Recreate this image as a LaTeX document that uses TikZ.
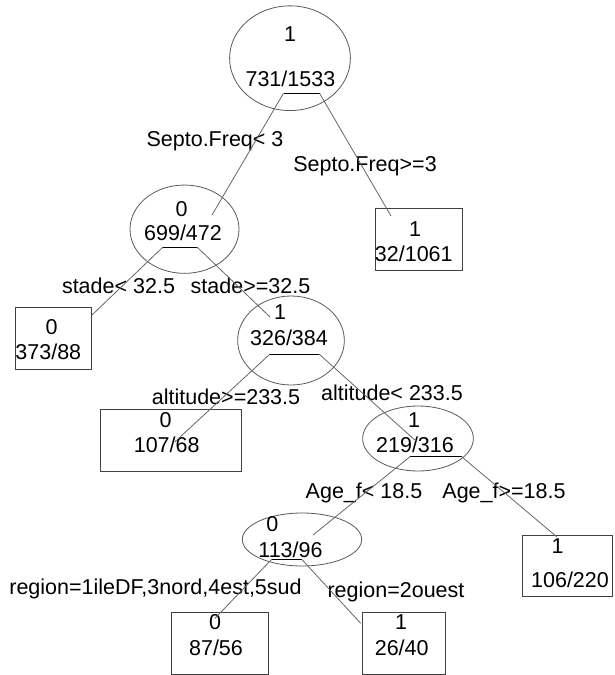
\documentclass[tikz,border=0pt]{standalone}
\usepackage{fontspec}
\setmainfont{Liberation Sans}
\usepackage{tikz}
\usetikzlibrary{positioning, shapes.geometric}

\tikzset{
    split/.style={ellipse, draw=black!65, line width=0.8pt, inner sep=0pt},
    leaf/.style={rectangle, draw=black!75, line width=0.8pt, inner sep=0pt},
    txt/.style={inner sep=0pt, anchor=base, font=\fontsize{21.5}{24}\selectfont},
    branch/.style={draw=black!60, line width=0.8pt},
    bar/.style={draw=black, line width=0.8pt}
}

\begin{document}
\begin{tikzpicture}[x=1pt, y=-1pt]
    \useasboundingbox (0,0) rectangle (615,675);
    % split nodes
    \node[split, minimum width=120.8pt, minimum height=104.7pt] (root) at (290,58.2) {};
    \node[split, minimum width=109pt, minimum height=88.3pt] (n2) at (184.5,229.2) {};
    \node[split, minimum width=106.7pt, minimum height=89pt] (n5) at (291,340.5) {};
    \node[split, minimum width=110.7pt, minimum height=65pt] (n11) at (418,438.5) {};
    \node[split, minimum width=119.4pt, minimum height=53pt] (n22) at (302,539.5) {};
    % leaves
    \node[leaf, minimum width=86.7pt, minimum height=62.3pt] (l3) at (419,239.5) {};
    \node[leaf, minimum width=75.3pt, minimum height=62pt] (l4) at (53.3,338.3) {};
    \node[leaf, minimum width=140.7pt, minimum height=62pt] (l10) at (171,440.3) {};
    \node[leaf, minimum width=89.3pt, minimum height=61.7pt] (l23) at (567.3,565.8) {};
    \node[leaf, minimum width=96.7pt, minimum height=61.7pt] (l44) at (220,643.2) {};
    \node[leaf, minimum width=83pt, minimum height=62pt] (l45) at (404.2,643.3) {};
    % class and counts
    \node[txt] (root-c) at (290,41) {1};
    \node[txt] (root-n) at (290.4,86.1) {731/1533};
    \node[txt] (n2-c) at (181.7,216) {0};
    \node[txt] (n2-n) at (183,240.7) {699/472};
    \node[txt] (l3-c) at (415,236) {1};
    \node[txt] (l3-n) at (413.8,261) {32/1061};
    \node[txt] (l4-c) at (51.7,334.7) {0};
    \node[txt] (l4-n) at (48.3,359.7) {373/88};
    \node[txt] (n5-c) at (280,319.7) {1};
    \node[txt] (n5-n) at (289,345.7) {326/384};
    \node[txt] (l10-c) at (165.7,427.7) {0};
    \node[txt] (l10-n) at (166.7,452.7) {107/68};
    \node[txt] (n11-c) at (414,427.7) {1};
    \node[txt] (n11-n) at (415,452.7) {219/316};
    \node[txt] (l23-c) at (557.7,553.7) {1};
    \node[txt] (l23-n) at (570,587.7) {106/220};
    \node[txt] (n22-c) at (272.3,531.7) {0};
    \node[txt] (n22-n) at (290.5,557.7) {113/96};
    \node[txt] (l44-c) at (215,629.4) {0};
    \node[txt] (l44-n) at (216,655) {87/56};
    \node[txt] (l45-c) at (401,629.4) {1};
    \node[txt] (l45-n) at (401.7,655) {26/40};
    % split labels
    \node[txt] (s1l) at (215,146) {Septo.Freq< 3};
    \node[txt] (s1r) at (365,171.7) {Septo.Freq>=3};
    \node[txt] (s2l) at (118.5,293.7) {stade< 32.5};
    \node[txt] (s2r) at (250.5,293.7) {stade>=32.5};
    \node[txt] (s5l) at (226,404.4) {altitude>=233.5};
    \node[txt] (s5r) at (392,400.4) {altitude< 233.5};
    \node[txt] (s11l) at (364,498.7) {Age\_f< 18.5};
    \node[txt] (s11r) at (504,498.7) {Age\_f>=18.5};
    \node[txt] (s22l) at (155.5,594.4) {region=1ileDF,3nord,4est,5sud};
    \node[txt] (s22r) at (396,597.7) {region=2ouest};
    % bar ends and attach points
    \coordinate (root-l) at (283.5,93.3);
    \coordinate (root-r) at (319.6,93.3);
    \coordinate (n2-at) at (212,215);
    \coordinate (n2-l) at (163,247);
    \coordinate (n2-r) at (197,247);
    \coordinate (l3-at) at (391,216);
    \coordinate (l4-at) at (92,315);
    \coordinate (n5-at) at (270,317);
    \coordinate (n5-l) at (270,354);
    \coordinate (n5-r) at (319,354);
    \coordinate (l10-at) at (175,441.7);
    \coordinate (n11-at) at (416.7,441.7);
    \coordinate (n11-l) at (410,456.7);
    \coordinate (n11-r) at (461.7,456.7);
    \coordinate (n22-at) at (313,535);
    \coordinate (n22-l) at (271.7,559.3);
    \coordinate (n22-r) at (301.7,559.3);
    \coordinate (l23-at) at (556.7,536.7);
    \coordinate (l44-at) at (215,618.3);
    \coordinate (l45-at) at (360.7,623.3);
    % branches
    \draw[bar] (root-l) -- (root-r);
    \draw[branch] (root-l) -- (n2-at);
    \draw[branch] (root-r) -- (l3-at);
    \draw[bar] (n2-l) -- (n2-r);
    \draw[branch] (n2-l) -- (l4-at);
    \draw[branch] (n2-r) -- (n5-at);
    \draw[bar] (n5-l) -- (n5-r);
    \draw[branch] (n5-l) -- (l10-at);
    \draw[branch] (n5-r) -- (n11-at);
    \draw[bar] (n11-l) -- (n11-r);
    \draw[branch] (n11-l) -- (n22-at);
    \draw[branch] (n11-r) -- (l23-at);
    \draw[bar] (n22-l) -- (n22-r);
    \draw[branch] (n22-l) -- (l44-at);
    \draw[branch] (n22-r) -- (l45-at);
\end{tikzpicture}
\end{document}
